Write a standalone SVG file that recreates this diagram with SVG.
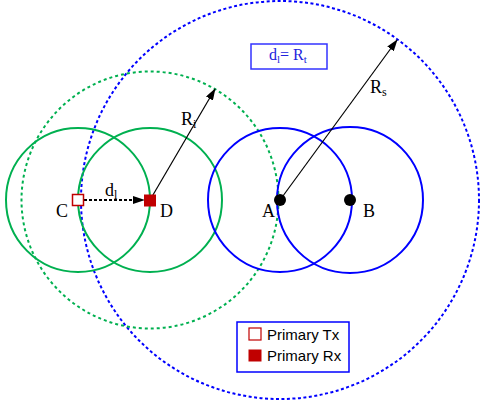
<svg xmlns="http://www.w3.org/2000/svg" width="481" height="407" viewBox="0 0 481 407">
<defs>
<style>
.gs{fill:none;stroke:#00b050;stroke-width:2}
.gd{fill:none;stroke:#00b050;stroke-width:2;stroke-dasharray:3,3}
.bs{fill:none;stroke:#0000ff;stroke-width:2}
.bd{fill:none;stroke:#0000ff;stroke-width:2;stroke-dasharray:3,2.5}
.lbl{font-family:"Liberation Serif","Times New Roman",serif;font-size:18px;fill:#000}
.sub{font-size:12px}
.leg{font-family:"Liberation Sans",Arial,sans-serif;font-size:15px;fill:#000}
</style>
<marker id="ah" markerWidth="12" markerHeight="8" refX="11" refY="4" orient="auto" markerUnits="userSpaceOnUse">
<path d="M0,0 L12,4 L0,8 Z" fill="#000"/>
</marker>
</defs>
<g id="circles">
<circle class="bd" cx="280" cy="200" r="199"/>
<circle class="gd" cx="150" cy="200" r="128.5"/>
<circle class="gs" cx="78" cy="200" r="72"/>
<circle class="gs" cx="150" cy="200" r="72"/>
<circle class="bs" cx="280" cy="200" r="72"/>
<circle class="bs" cx="350" cy="200" r="73"/>
</g>
<g id="connectors">
<line x1="150" y1="200" x2="215" y2="89" stroke="#000" stroke-width="1.2" marker-end="url(#ah)"/>
<line x1="280" y1="200" x2="397" y2="40" stroke="#000" stroke-width="1.2" marker-end="url(#ah)"/>
<line x1="84" y1="200" x2="144" y2="200" stroke="#000" stroke-width="1.8" stroke-dasharray="3,2" marker-end="url(#ah)"/>
</g>
<g id="nodeC">
<rect x="72.5" y="194.5" width="11" height="11" fill="#fff" stroke="#c00000" stroke-width="1.5"/>
<text class="lbl" x="56" y="217">C</text>
</g>
<g id="nodeD">
<rect x="144.5" y="195" width="11" height="11" fill="#c00000" stroke="#c00000" stroke-width="1"/>
<text class="lbl" x="160" y="217">D</text>
</g>
<g id="nodeA">
<circle cx="280" cy="200" r="6" fill="#000"/>
<text class="lbl" x="262" y="217">A</text>
</g>
<g id="nodeB">
<circle cx="350" cy="200" r="6" fill="#000"/>
<text class="lbl" x="363" y="217">B</text>
</g>
<g id="labels">
<text class="lbl" x="105" y="196">d<tspan class="sub" dy="3">l</tspan></text>
<text class="lbl" x="181" y="125">R<tspan class="sub" dy="3">i</tspan></text>
<text class="lbl" x="370" y="93">R<tspan class="sub" dy="3">s</tspan></text>
</g>
<g id="eqbox">
<rect x="251" y="44" width="76" height="25" fill="#fff" stroke="#3333ff" stroke-width="1.5"/>
<text x="269" y="60" font-family="Liberation Serif, Times New Roman, serif" font-size="16" fill="#2222dd">d<tspan font-size="11" dy="3">l</tspan><tspan dy="-3">= R</tspan><tspan font-size="11" dy="3">t</tspan></text>
</g>
<g id="legend">
<rect x="237" y="322" width="112" height="50" fill="#fff" stroke="#0000ff" stroke-width="1.5"/>
<rect x="249" y="328" width="12" height="12" fill="#fff" stroke="#c00000" stroke-width="1.2"/>
<text class="leg" x="267" y="340">Primary Tx</text>
<rect x="248.5" y="349.5" width="13" height="12" fill="#c00000"/>
<text class="leg" x="267" y="361">Primary Rx</text>
</g>
</svg>
